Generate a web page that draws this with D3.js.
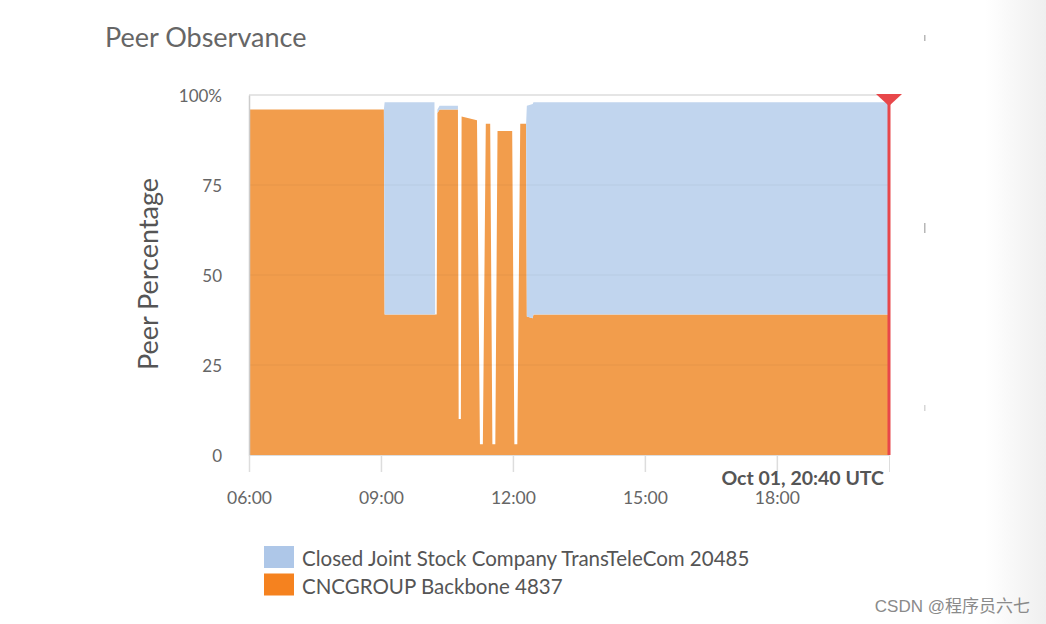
<!DOCTYPE html>
<html>
<head>
<meta charset="utf-8">
<script src="https://cdn.jsdelivr.net/npm/d3@7"></script>
<style>
body { margin: 0; background: #fff; }
text { font-family: Lato, "Open Sans", sans-serif; }
</style>
</head>
<body>
<svg width="1046" height="624"></svg>

<script>

// sample times (UTC) and the share of peers seeing each upstream
var times = ["06:00", "09:04", "09:05", "10:13", "10:14", "10:16", "10:17", "10:20", "10:45",
             "10:46", "10:49", "10:50", "11:11", "11:15", "11:19", "11:23", "11:29",
             "11:32", "11:36", "11:39", "11:59", "12:02", "12:06", "12:10", "12:18",
             "12:19", "12:27", "12:28", "20:33"];
var cncgroup = [96, 96, 39, 39, 39, 39, 95, 96, 96,
                10, 10, 94, 93, 3, 3, 92, 92,
                3, 3, 90, 90, 3, 3, 92, 92,
                38.5, 38, 39, 39];
var transtelecom = [0, 0, 59, 59, 0, 0, 1, 1, 1,
                    0, 0, 0, 0, 0, 0, 0, 0,
                    0, 0, 0, 0, 0, 0, 0, 0,
                    58.5, 59.5, 59, 59];

var seriesNames = ["Closed Joint Stock Company TransTeleCom 20485", "CNCGROUP Backbone 4837"];
var yTicks = [0, 25, 50, 75, 100];
var xTicks = ["06:00", "09:00", "12:00", "15:00", "18:00"];
var markerTime = "20:33";
var markerLabel = "Oct 01, 20:40 UTC";

var parse = d3.utcParse("%H:%M");

var rows = times.map(function(t, i) {
  return {date: parse(t), cnc: cncgroup[i], ttk: transtelecom[i]};
});

var svg = d3.select("svg");

// grey band at the right edge of the screenshot
var grad = svg.append("defs").append("linearGradient")
    .attr("id", "edge")
    .attr("x1", "0").attr("x2", "1");
grad.append("stop").attr("offset", "0").attr("stop-color", "#fff");
grad.append("stop").attr("offset", "1").attr("stop-color", "#efefef");
svg.append("rect")
    .attr("x", 985).attr("y", 0)
    .attr("width", 61).attr("height", 624)
    .attr("fill", "url(#edge)");

var x = d3.scaleUtc()
    .domain([parse("06:00"), parse(markerTime)])
    .range([249, 889]);

var y = d3.scaleLinear()
    .domain([0, 100])
    .range([455, 95]);

var stack = d3.stack().keys(["cnc", "ttk"]);
var layers = stack(rows);

var colors = {cnc: "#f29d4c", ttk: "#c1d5ee"};
var legendColors = ["#aec7e8", "#f5821f"];

var area = d3.area()
    .x(function(d) { return x(d.data.date); })
    .y0(function(d) { return y(d[0]); })
    .y1(function(d) { return y(d[1]); });

// top frame line
svg.append("line")
    .attr("x1", x.range()[0]).attr("x2", x.range()[1])
    .attr("y1", y(100)).attr("y2", y(100))
    .attr("stroke", "#ddd")
    .attr("stroke-width", 1.5);

svg.append("g")
  .selectAll("path")
  .data(layers)
  .enter().append("path")
    .attr("fill", function(d) { return colors[d.key]; })
    .attr("d", area);

// faint grid lines over the areas
svg.append("g")
  .selectAll("line")
  .data(yTicks.filter(function(d) { return d > 0 && d < 100; }))
  .enter().append("line")
    .attr("x1", x.range()[0]).attr("x2", x.range()[1])
    .attr("y1", function(d) { return y(d); })
    .attr("y2", function(d) { return y(d); })
    .attr("stroke", "#000")
    .attr("stroke-opacity", 0.05);

// y axis
var yAxis = svg.append("g")
    .attr("transform", "translate(249,0)")
    .call(d3.axisLeft(y)
        .tickValues(yTicks)
        .tickSize(0)
        .tickPadding(27)
        .tickFormat(function(d) { return d === 100 ? "100%" : d; }));
yAxis.select(".domain").attr("stroke", "#ccc").attr("stroke-width", 1.5);
yAxis.selectAll("text")
    .attr("fill", "#666")
    .attr("dy", "0.4em")
    .style("font-size", "17px");

// x axis
var xAxis = svg.append("g")
    .attr("transform", "translate(0,455)")
    .call(d3.axisBottom(x)
        .tickValues(xTicks.map(parse))
        .tickSize(17)
        .tickPadding(20)
        .tickFormat(d3.utcFormat("%H:%M")));
xAxis.select(".domain").attr("stroke", "#ddd");
xAxis.selectAll(".tick line").attr("stroke", "#ddd").attr("stroke-width", 1.5);
xAxis.selectAll("text")
    .attr("fill", "#666")
    .style("font-size", "17.5px");

// current-time marker
var mx = x(parse(markerTime));
svg.append("line")
    .attr("x1", mx).attr("x2", mx)
    .attr("y1", y(100)).attr("y2", y(0))
    .attr("stroke", "#e8474a")
    .attr("stroke-width", 3);
svg.append("path")
    .attr("d", "M" + (mx - 13) + "," + (y(100) - 1) + "L" + (mx + 13) + "," + (y(100) - 1) + "L" + mx + "," + (y(100) + 11) + "Z")
    .attr("fill", "#e8474a");
svg.append("text")
    .attr("x", mx - 5)
    .attr("y", 485)
    .attr("text-anchor", "end")
    .attr("fill", "#555")
    .style("font-size", "19.5px")
    .style("font-weight", "bold")
    .text(markerLabel);

// titles
svg.append("text")
    .attr("x", 105)
    .attr("y", 47)
    .attr("fill", "#666")
    .style("font-size", "27px")
    .text("Peer Observance");

svg.append("text")
    .attr("transform", "translate(158,274) rotate(-90)")
    .attr("text-anchor", "middle")
    .attr("fill", "#555")
    .style("font-size", "27px")
    .text("Peer Percentage");

// legend
var legend = svg.append("g")
    .attr("transform", "translate(264,546)")
  .selectAll("g")
  .data(seriesNames)
  .enter().append("g")
    .attr("transform", function(d, i) { return "translate(0," + i * 27.5 + ")"; });
legend.append("rect")
    .attr("width", 30)
    .attr("height", 22)
    .attr("fill", function(d, i) { return legendColors[i]; });
legend.append("text")
    .attr("x", 38)
    .attr("y", 20)
    .attr("fill", "#555")
    .style("font-size", "20.5px")
    .text(function(d) { return d; });

// little screenshot specks at the right
svg.append("g")
  .selectAll("rect")
  .data([40, 228, 410])
  .enter().append("rect")
    .attr("x", 924)
    .attr("y", function(d) { return d - 5; })
    .attr("width", 1.5)
    .attr("height", function(d, i) { return i === 1 ? 10 : 6; })
    .attr("fill", "#999")
    .attr("opacity", function(d, i) { return i === 2 ? 0.4 : 0.7; });

// watermark
svg.append("text")
    .attr("x", 1030)
    .attr("y", 612)
    .attr("text-anchor", "end")
    .attr("fill", "#8a8a8a")
    .style("font-family", "'Liberation Sans', 'Noto Sans CJK SC', sans-serif")
    .style("font-size", "17px")
    .text("CSDN @程序员六七");

</script>
</body>
</html>
